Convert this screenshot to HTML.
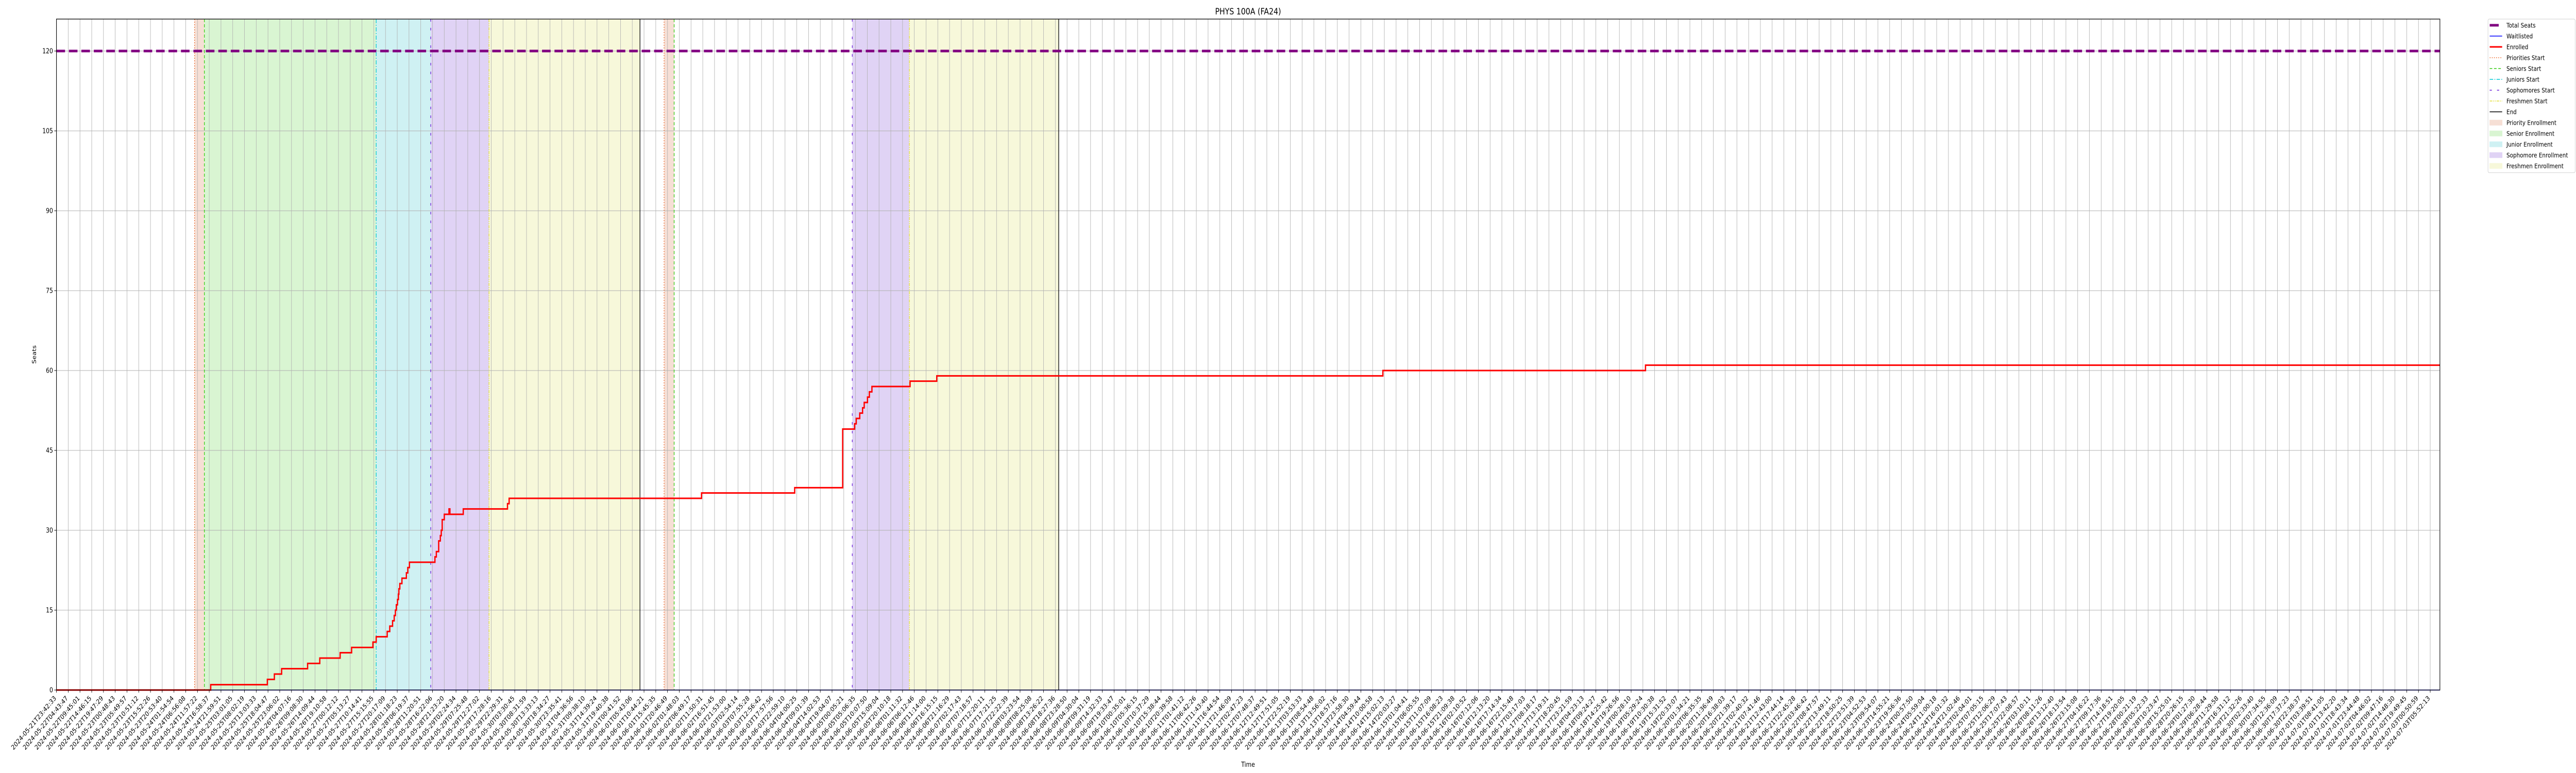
<!DOCTYPE html>
<html>
<head>
<meta charset="utf-8">
<style>
html,body{margin:0;padding:0;background:#fff;width:100%;height:100%;overflow:hidden;}
svg{display:block;width:100vw;height:100vh;font-family:"DejaVu Sans","Liberation Sans",sans-serif;}
</style>
</head>
<body>
<svg id="chart" viewBox="0 0 6000 1500" preserveAspectRatio="none" xmlns="http://www.w3.org/2000/svg">
  <rect x="0" y="0" width="6000" height="1500" fill="#fff"/>
  <g id="fills"></g>
  <g id="grid"></g>
  <g id="vlines"></g>
  <g id="series"></g>
  <g id="axes"></g>
  <text x="2907" y="28" text-anchor="middle" font-size="17" fill="#000">PHYS 100A (FA24)</text>
  <text x="2907" y="1488" text-anchor="middle" font-size="13" fill="#000">Time</text>
  <text x="0" y="0" transform="translate(84,688) rotate(-90)" text-anchor="middle" font-size="13" fill="#000">Seats</text>
  <g id="legend"></g>
</svg>
<script>
// ---- data (time in hours since first tick) ----
const startISO = "2024-05-21T23:42:33";
const tickCount = 203;
const tickStepHours = 5.0206;
const yTicks = [0, 15, 30, 45, 60, 75, 90, 105, 120];
const totalSeats = 120;
const enrolledTimes = [0, 65.9, 90.1, 93.1, 96.2, 107.3, 112.5, 121.2, 126.1, 135.2, 136.6, 141.3, 142.4, 143.6, 144.3, 144.8, 145.2, 145.7, 146.1, 146.3, 146.7, 147.6, 149.5, 150.1, 150.8, 161.7, 162.3, 163.3, 164.0, 164.4, 164.8, 165.7, 167.7, 168.1, 173.8, 192.7, 193.4, 275.6, 315.4, 335.9, 341.0, 341.7, 343.2, 344.4, 345.1, 346.5, 347.3, 348.4, 364.7, 376.1, 566.7, 678.9];
const enrolledValues = [0, 1, 2, 3, 4, 5, 6, 7, 8, 9, 10, 11, 12, 13, 14, 15, 16, 17, 18, 19, 20, 21, 22, 23, 24, 25, 26, 28, 29, 30, 32, 33, 34, 33, 34, 35, 36, 37, 38, 49, 50, 51, 52, 53, 54, 55, 56, 57, 58, 59, 60, 61];
const waitTimes = [65.9];
const waitValues = [0];
const phaseNames = ["priority", "seniors", "juniors", "sophomores", "freshmen", "end", "priority", "seniors", "sophomores", "freshmen", "end"];
const phaseTimes = [59.0, 63.2, 136.6, 159.9, 184.8, 249.3, 259.6, 263.9, 340.0, 364.4, 428.2];
const fillNames = ["priority", "senior", "junior", "sophomore", "freshmen", "priority", "sophomore", "freshmen"];
const fillStarts = [59.0, 63.2, 136.6, 159.9, 184.8, 259.6, 340.0, 364.4];
const fillEnds = [63.2, 136.6, 159.9, 184.8, 249.3, 263.9, 364.4, 428.2];

// ---- layout ----
const L = 131.5, R = 5683, T = 37, B = 1339;
const xMaxH = 1018.3, yMax = 126;
const NS = "http://www.w3.org/2000/svg";
function xs(h){ return L + h / xMaxH * (R - L); }
function ys(v){ return B - v / yMax * (B - T); }
function mk(tag, attrs, parent){
  const e = document.createElementNS(NS, tag);
  for (const k in attrs) e.setAttribute(k, attrs[k]);
  parent.appendChild(e);
  return e;
}
const fillColors = {priority:"#f6dfd5", senior:"#d9f5d2", junior:"#cff1f3", sophomore:"#e0d3f5", freshmen:"#f7f8da"};
const phaseStyles = {
  priority:{c:"#ee6a2c", d:"2,3", w:1.5},
  seniors:{c:"#33cc11", d:"6,4", w:1.5},
  juniors:{c:"#00c8d4", d:"8,3,2,3", w:1.5},
  sophomores:{c:"#6a1fd8", d:"5,12", w:1.5},
  freshmen:{c:"#e4e03c", d:"6,2,2,2,2,2", w:1.5},
  end:{c:"#000", d:"", w:1.5}
};

// fills
const gF = document.getElementById("fills");
for (let i = 0; i < fillStarts.length; i++){
  const r = mk("rect", {x: xs(fillStarts[i]), y: T, width: xs(fillEnds[i]) - xs(fillStarts[i]), height: B - T, fill: fillColors[fillNames[i]]}, gF);
  
  
}

// grid
const gG = document.getElementById("grid");
for (let i = 0; i < tickCount; i++){
  const x = xs(i * tickStepHours);
  const l = mk("line", {x1: x, x2: x, y1: T, y2: B, stroke: "#b0b0b0", "stroke-width": 1}, gG);
  
  
}
yTicks.forEach(v => {
  const l = mk("line", {x1: L, x2: R, y1: ys(v), y2: ys(v), stroke: "#b0b0b0", "stroke-width": 1}, gG);
  
  
});

// phase lines
const gV = document.getElementById("vlines");
for (let i = 0; i < phaseTimes.length; i++){
  const s = phaseStyles[phaseNames[i]];
  const x = xs(phaseTimes[i]);
  const l = mk("line", {x1: x, x2: x, y1: T, y2: B, stroke: s.c, "stroke-width": s.w}, gV);
  if (s.d) l.setAttribute("stroke-dasharray", s.d);
  
  
}

// series
const gS = document.getElementById("series");
const ts = mk("line", {x1: L, x2: R, y1: ys(totalSeats), y2: ys(totalSeats), stroke: "#800080", "stroke-width": 5, "stroke-dasharray": "20,9"}, gS);


let wd = "M" + xs(waitTimes[0]) + "," + ys(waitValues[0]);
for (let i = 1; i < waitTimes.length; i++) wd += " H" + xs(waitTimes[i]) + " V" + ys(waitValues[i]);
wd += " H" + R;
const wp = mk("path", {d: wd, fill: "none", stroke: "#0000ff", "stroke-width": 1.5}, gS);


let ed = "M" + xs(enrolledTimes[0]) + "," + ys(enrolledValues[0]);
for (let i = 1; i < enrolledTimes.length; i++) ed += " H" + xs(enrolledTimes[i]) + " V" + ys(enrolledValues[i]);
ed += " H" + R;
const ep = mk("path", {d: ed, fill: "none", stroke: "#ff0000", "stroke-width": 3, "stroke-linejoin": "miter"}, gS);



// axes
const gA = document.getElementById("axes");
const frame = mk("rect", {x: L, y: T, width: R - L, height: B - T, fill: "none", stroke: "#000", "stroke-width": 1.3}, gA);


yTicks.forEach(v => {
  const y = ys(v);
  const tk = mk("line", {x1: L - 5, x2: L, y1: y, y2: y, stroke: "#000", "stroke-width": 1}, gA);
  
  
  const t = mk("text", {x: L - 8, y: y + 4.5, "text-anchor": "end", "font-size": 13, fill: "#000"}, gA);
  t.textContent = String(v);
  
  
});
const t0 = new Date(startISO + "Z").getTime();
function fmt(ms){ return new Date(ms).toISOString().slice(0, 19); }
for (let i = 0; i < tickCount; i++){
  const h = i * tickStepHours;
  const x = xs(h);
  const tk = mk("line", {x1: x, x2: x, y1: B, y2: B + 5, stroke: "#000", "stroke-width": 1}, gA);
  
  
  const ax = x - 6.5, ay = B + 10;
  const t = mk("text", {x: ax, y: ay, dy: "0.73em", "text-anchor": "end", "font-size": 13, fill: "#000", transform: "rotate(-45," + ax + "," + ay + ")"}, gA);
  t.textContent = fmt(t0 + h * 3600000);
  
  
}

// legend
const legendLabels = ["Total Seats","Waitlisted","Enrolled","Priorities Start","Seniors Start","Juniors Start","Sophomores Start","Freshmen Start","End","Priority Enrollment","Senior Enrollment","Junior Enrollment","Sophomore Enrollment","Freshmen Enrollment"];
const gL = document.getElementById("legend");
const lb = mk("rect", {x: 5795, y: 37, width: 203, height: 298, rx: 3, fill: "#fff", stroke: "#d0d0d0", "stroke-width": 1}, gL);


const handles = [
  {t:"line", c:"#800080", w:5, d:"", short:true},
  {t:"line", c:"#0000ff", w:1.5, d:""},
  {t:"line", c:"#ff0000", w:3, d:""},
  {t:"line", c:"#ee6a2c", w:1.5, d:"2,3"},
  {t:"line", c:"#33cc11", w:1.5, d:"6,4"},
  {t:"line", c:"#00c8d4", w:1.5, d:"8,3,2,3"},
  {t:"line", c:"#6a1fd8", w:1.5, d:"5,12"},
  {t:"line", c:"#e4e03c", w:1.5, d:"6,2,2,2,2,2"},
  {t:"line", c:"#000", w:1.5, d:""},
  {t:"rect", c:"#f6dfd5"},
  {t:"rect", c:"#d9f5d2"},
  {t:"rect", c:"#cff1f3"},
  {t:"rect", c:"#e0d3f5"},
  {t:"rect", c:"#f7f8da"}
];
legendLabels.forEach((lab, i) => {
  const y = 49 + i * 21;
  const hd = handles[i];
  let el;
  if (hd.t === "line"){
    el = mk("line", {x1: 5799, x2: hd.short ? 5820 : 5828, y1: y, y2: y, stroke: hd.c, "stroke-width": hd.w}, gL);
    if (hd.d) el.setAttribute("stroke-dasharray", hd.d);
  } else {
    el = mk("rect", {x: 5799, y: y - 5, width: 29, height: 10, fill: hd.c, stroke: hd.c}, gL);
  }
  
  
  const t = mk("text", {x: 5838, y: y + 4.5, "font-size": 12.5, fill: "#000"}, gL);
  t.textContent = lab;
  
  
});
</script>
</body>
</html>
